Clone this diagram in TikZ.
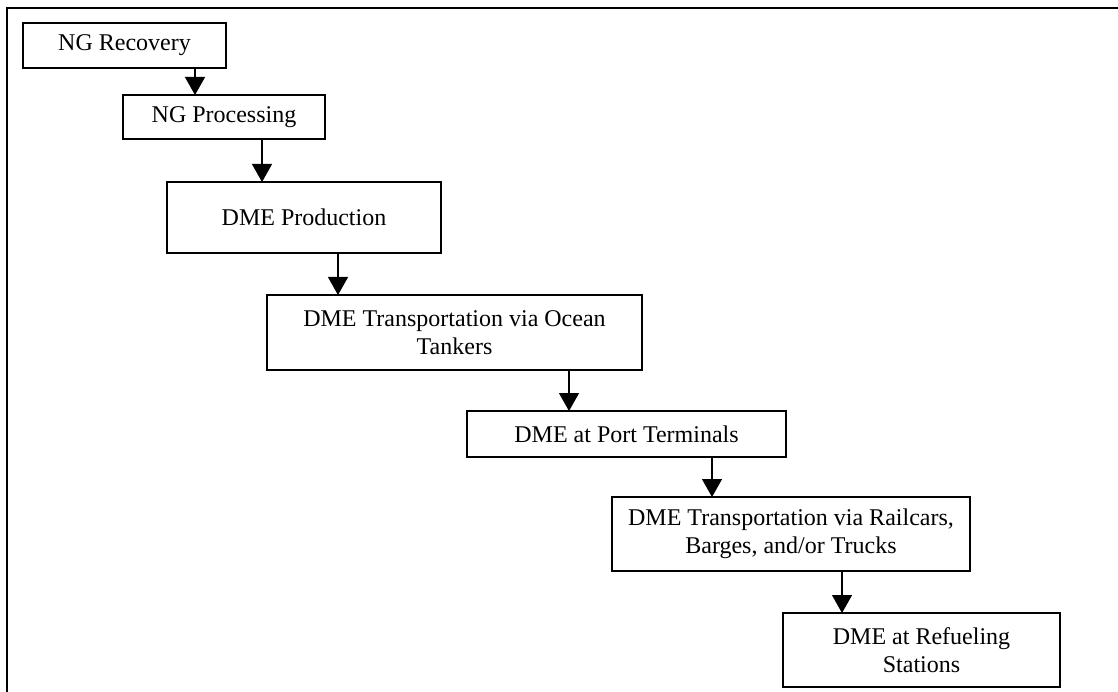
\documentclass[tikz,border=0pt]{standalone}
\usepackage{fontspec}
\setmainfont{Liberation Serif}
\usetikzlibrary{arrows.meta}
\tikzset{
  stage/.style={draw=black, line width=1.3pt, anchor=north west, inner sep=0pt, outer sep=0pt,
    align=center, font=\fontsize{24}{28}\selectfont},
  flow/.style={line width=1.3pt, -{Triangle[length=18pt,width=20pt]}},
  frame/.style={line width=2.5pt}
}
\begin{document}
\begin{tikzpicture}[x=1pt,y=-1pt]
\useasboundingbox (0,0) rectangle (1118,692);
\draw[frame] (1118,8) -- (7,8) -- (7,692);
\node[stage, minimum width=203pt, minimum height=45pt] (a) at (23,23) {NG Recovery};
\node[stage, minimum width=202pt, minimum height=44pt] (b) at (123,95) {NG Processing};
\node[stage, minimum width=274pt, minimum height=71pt] (c) at (167,182) {DME Production};
\node[stage, minimum width=375pt, minimum height=75pt] (d) at (267,295) {DME Transportation via Ocean\\Tankers};
\node[stage, minimum width=319pt, minimum height=46pt] (e) at (467,411) {DME at Port Terminals};
\node[stage, minimum width=358pt, minimum height=74pt] (f) at (612,497) {DME Transportation via Railcars,\\Barges, and/or Trucks};
\node[stage, minimum width=277pt, minimum height=74pt] (g) at (783,613) {DME at Refueling\\Stations};
\draw[flow] ([xshift=172pt]a.south west) coordinate (ab) -- (ab |- b.north);
\draw[flow] ([xshift=139pt]b.south west) coordinate (bc) -- (bc |- c.north);
\draw[flow] ([xshift=171pt]c.south west) coordinate (cd) -- (cd |- d.north);
\draw[flow] ([xshift=302pt]d.south west) coordinate (de) -- (de |- e.north);
\draw[flow] ([xshift=245pt]e.south west) coordinate (ef) -- (ef |- f.north);
\draw[flow] ([xshift=230pt]f.south west) coordinate (fg) -- (fg |- g.north);
\end{tikzpicture}
\end{document}
